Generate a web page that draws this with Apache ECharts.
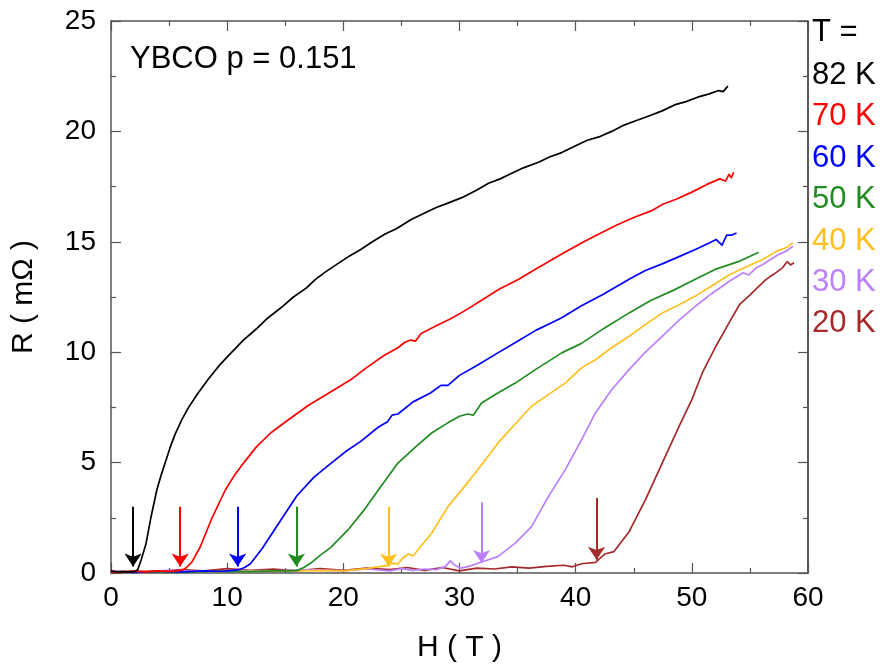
<!DOCTYPE html>
<html>
<head>
<meta charset="utf-8">
<script src="https://cdn.jsdelivr.net/npm/echarts@6/dist/echarts.min.js"></script>
<style>html,body{margin:0;padding:0;background:#fff}#c{width:885px;height:671px}</style>
</head>
<body>
<div id="c"></div>
<script>
// ---- data ----
const xTicks = [0, 10, 20, 30, 40, 50, 60];
const yTicks = [0, 5, 10, 15, 20, 25];
const temps = ['82 K', '70 K', '60 K', '50 K', '40 K', '30 K', '20 K'];
const colors = ['#000000', '#ff0000', '#0000ff', '#228b22', '#ffbf1f', '#bb80ff', '#a52a2a'];

const r82 = [[0,0.1],[0.5,0.05],[1,0.06],[1.5,0.05],[2.0,0.06],[2.3,0.15],[2.6,0.6],[3.0,1.3],[3.43,2.5],[3.95,3.77],[4.3,4.4],[4.67,5.0],[5.1,5.7],[5.53,6.3],[6.1,6.95],[6.68,7.5],[7.5,8.15],[8.4,8.8],[9.4,9.45],[10.4,10.0],[11.4,10.55],[12.5,11.05],[13.5,11.55],[14.6,12.0],[15.7,12.5],[16.8,12.9],[17.6,13.3],[18.5,13.65],[19.5,14.0],[20.5,14.35],[21.5,14.65],[22.5,15.0],[23.6,15.35],[24.6,15.6],[25.8,16.0],[27,16.3],[28,16.55],[29,16.75],[30.2,17.0],[31.5,17.35],[32.5,17.65],[33.5,17.85],[34.5,18.1],[35.5,18.35],[36.8,18.6],[37.8,18.85],[38.8,19.04],[40,19.35],[41,19.6],[42,19.75],[43.1,20.0],[44,20.25],[45,20.45],[46.3,20.7],[47.45,20.93],[48.5,21.2],[49.5,21.35],[50.5,21.55],[51.5,21.7],[52.3,21.85],[52.7,21.8],[53.1,22.05]];
const r70 = [[0,0.05],[1,0.03],[2,0.08],[3,0.05],[4,0.1],[5,0.07],[5.6,0.1],[6.1,0.12],[6.5,0.25],[6.97,0.5],[7.7,1.2],[8.7,2.5],[9.85,3.77],[10.6,4.4],[11.44,5.0],[12.5,5.7],[13.74,6.34],[15.3,6.95],[17.0,7.6],[18.9,8.2],[20.66,8.76],[22,9.3],[23.5,9.85],[24.7,10.2],[25.3,10.45],[25.8,10.55],[26.2,10.5],[26.7,10.85],[28,11.2],[29.2,11.5],[30.4,11.86],[31.9,12.35],[33.4,12.85],[35.1,13.3],[36.5,13.75],[38.8,14.45],[40.5,14.95],[42,15.35],[43.5,15.75],[45,16.1],[46.5,16.4],[47.5,16.7],[48.75,16.95],[50,17.25],[51.3,17.6],[52.4,17.85],[52.9,17.75],[53.2,18.05],[53.4,17.9],[53.6,18.15]];
const r60 = [[0,0.05],[2,0.03],[4,0.08],[6,0.05],[8,0.1],[9.5,0.08],[10.5,0.12],[11.0,0.15],[11.5,0.25],[12.0,0.42],[13.0,1.1],[14.5,2.3],[16.0,3.5],[17.5,4.35],[18.9,4.95],[20.2,5.5],[21.5,5.96],[23,6.6],[23.8,6.85],[24.2,7.15],[24.7,7.2],[26,7.75],[27.5,8.15],[28.4,8.5],[29.0,8.5],[30,8.95],[31.5,9.4],[33.3,9.97],[35,10.5],[36.6,11.0],[37.8,11.3],[38.8,11.56],[40.5,12.1],[42.3,12.6],[44.6,13.3],[46,13.7],[47.45,14.0],[49,14.35],[50.3,14.65],[51.5,14.95],[52.1,15.1],[52.6,14.85],[53,15.3],[53.4,15.3],[53.85,15.4]];
const r50 = [[0,0.05],[3,0.05],[6,0.03],[9,0.08],[12,0.06],[14,0.1],[15.5,0.1],[16.05,0.12],[16.6,0.25],[17.2,0.45],[18.0,0.8],[18.9,1.15],[20.4,1.95],[21.8,2.86],[23.2,3.9],[24.7,4.98],[26.2,5.7],[27.6,6.34],[29,6.8],[30.0,7.1],[30.7,7.2],[31.2,7.15],[31.9,7.7],[33.3,8.15],[34.8,8.6],[36.5,9.2],[38.8,9.97],[40.5,10.4],[42.5,11.1],[44.6,11.78],[46.5,12.35],[48.4,12.8],[50.3,13.3],[52,13.75],[54,14.1],[55.75,14.53]];
const r40 = [[0,0.05],[3,0.08],[6,0.05],[9,0.1],[12,0.07],[15,0.1],[18,0.12],[20,0.1],[22,0.2],[23.2,0.3],[23.7,0.32],[24.1,0.44],[24.7,0.41],[25.1,0.67],[25.6,0.86],[26.0,0.77],[26.4,1.04],[27.6,1.8],[29.0,3.0],[30.4,3.9],[31.9,4.9],[33.3,5.88],[34.8,6.75],[36.2,7.55],[37.7,8.1],[39.1,8.6],[40.5,9.29],[41.7,9.66],[43.1,10.2],[44.6,10.72],[46,11.25],[47.45,11.78],[48.9,12.15],[50.3,12.54],[51.7,13.0],[53.2,13.5],[54.6,13.85],[56.1,14.2],[57.4,14.6],[58.2,14.75],[58.7,14.96]];
const r30 = [[0,0.1],[2,0.05],[5,0.12],[8,0.08],[11,0.12],[14,0.1],[17,0.15],[20,0.1],[22,0.18],[24,0.1],[25,0.2],[26,0.12],[27,0.18],[28,0.15],[28.8,0.3],[29.2,0.55],[29.6,0.35],[30.1,0.22],[30.8,0.3],[31.9,0.5],[33.3,0.74],[34.8,1.35],[36.2,2.1],[37.65,3.46],[39.1,4.67],[40.5,6.03],[41.7,7.25],[43.1,8.3],[44.6,9.21],[46,10.0],[47.45,10.72],[48.9,11.45],[50.3,12.08],[51.7,12.65],[53.2,13.2],[54.4,13.6],[54.9,13.5],[55.5,13.8],[56.1,13.97],[57.4,14.4],[58.2,14.6],[58.7,14.8]];
const r20 = [[0,0.05],[2,0.1],[4,0.06],[6,0.15],[8,0.1],[10,0.2],[12,0.12],[14,0.18],[16,0.1],[18,0.2],[20,0.12],[22,0.22],[24,0.15],[25.5,0.25],[27,0.12],[28.5,0.25],[30,0.1],[31.5,0.22],[33,0.18],[34.5,0.28],[36,0.22],[37.5,0.3],[39,0.35],[39.7,0.28],[40.5,0.42],[41.7,0.48],[42.5,0.86],[43.3,0.97],[44.6,1.87],[46.0,3.31],[47.45,4.98],[48.9,6.64],[50.0,7.85],[50.9,9.06],[52,10.2],[53.2,11.33],[54.1,12.15],[54.9,12.54],[55.6,12.9],[56.4,13.3],[57.1,13.55],[57.8,13.82],[58.2,14.1],[58.5,13.95],[58.8,14.05]];
const curves = [r82, r70, r60, r50, r40, r30, r20];

// arrows marking onset fields (H, top R, tip R)
const arrowH = [1.9, 5.96, 10.9, 15.96, 23.9, 31.9, 41.8];
const arrowTop = [3.0, 3.0, 3.0, 3.0, 3.0, 3.2, 3.4];
const arrowTip = [0.3, 0.3, 0.3, 0.3, 0.3, 0.45, 0.6];

const annotation = 'YBCO p = 0.151';
const legendTitle = 'T =';

// ---- chart ----
const chart = echarts.init(document.getElementById('c'), null, {renderer: 'canvas'});
const FONT = 'Liberation Sans, Arial, Helvetica, sans-serif';
const axisColor = '#555';

function xAx(pos, showLabel) {
  return {
    type: 'value', min: xTicks[0], max: xTicks[xTicks.length - 1], interval: xTicks[1] - xTicks[0],
    position: pos,
    axisLine: {show: true, onZero: false, lineStyle: {color: axisColor, width: 1.5}},
    axisTick: {show: true, inside: true, length: 10, lineStyle: {color: axisColor, width: 1.2}},
    minorTick: {show: true, splitNumber: 2, length: 5, lineStyle: {color: axisColor, width: 1.2}},
    splitLine: {show: false},
    axisLabel: {show: showLabel, fontSize: 28, color: '#000', margin: 11, fontFamily: FONT},
    name: showLabel ? 'H ( T )' : '', nameLocation: 'middle', nameGap: 60,
    nameTextStyle: {fontSize: 30, color: '#000', fontFamily: FONT}
  };
}
function yAx(pos, showLabel) {
  return {
    type: 'value', min: yTicks[0], max: yTicks[yTicks.length - 1], interval: yTicks[1] - yTicks[0],
    position: pos,
    axisLine: {show: true, onZero: false, lineStyle: {color: pos === 'right' ? '#222' : axisColor, width: 1.5}},
    axisTick: {show: true, inside: true, length: 10, lineStyle: {color: axisColor, width: 1.2}},
    minorTick: {show: true, splitNumber: 2, length: 5, lineStyle: {color: axisColor, width: 1.2}},
    splitLine: {show: false},
    axisLabel: {show: showLabel, fontSize: 28, color: '#000', margin: 15, fontFamily: FONT},
    name: showLabel ? 'R ( mΩ )' : '', nameLocation: 'middle', nameGap: 72,
    nameTextStyle: {fontSize: 30, color: '#000', fontFamily: FONT}
  };
}

const series = curves.map((d, i) => ({
  type: 'line', name: temps[i], data: d, xAxisIndex: 0, yAxisIndex: 0,
  showSymbol: false, symbol: 'none', smooth: false,
  lineStyle: {color: colors[i], width: 1.7, join: 'round'},
  itemStyle: {color: colors[i]},
  z: 10 - i,
  markLine: {
    silent: true, animation: false,
    symbol: ['none', 'arrow'], symbolSize: 13,
    label: {show: false},
    lineStyle: {color: colors[i], width: 2, type: 'solid'},
    data: [[{coord: [arrowH[i], arrowTop[i]]}, {coord: [arrowH[i], arrowTip[i]]}]]
  }
}));

chart.setOption({
  animation: false,
  backgroundColor: '#fff',
  grid: {left: 111, top: 21, right: 77, bottom: 98, containLabel: false},
  xAxis: [xAx('bottom', true), xAx('top', false)],
  yAxis: [yAx('left', true), yAx('right', false)],
  series: series,
  graphic: [
    {type: 'text', left: 130, top: 44, style: {text: annotation, fill: '#000', fontSize: 31, fontFamily: FONT}},
    {type: 'text', left: 812, top: 17, style: {text: legendTitle, fill: '#000', fontSize: 31, fontFamily: FONT}}
  ].concat(temps.map((t, i) => ({
    type: 'text', left: 812, top: 60 + i * 41.4,
    style: {text: t, fill: colors[i], fontSize: 31, fontFamily: FONT}
  })))
});
</script>
</body>
</html>
